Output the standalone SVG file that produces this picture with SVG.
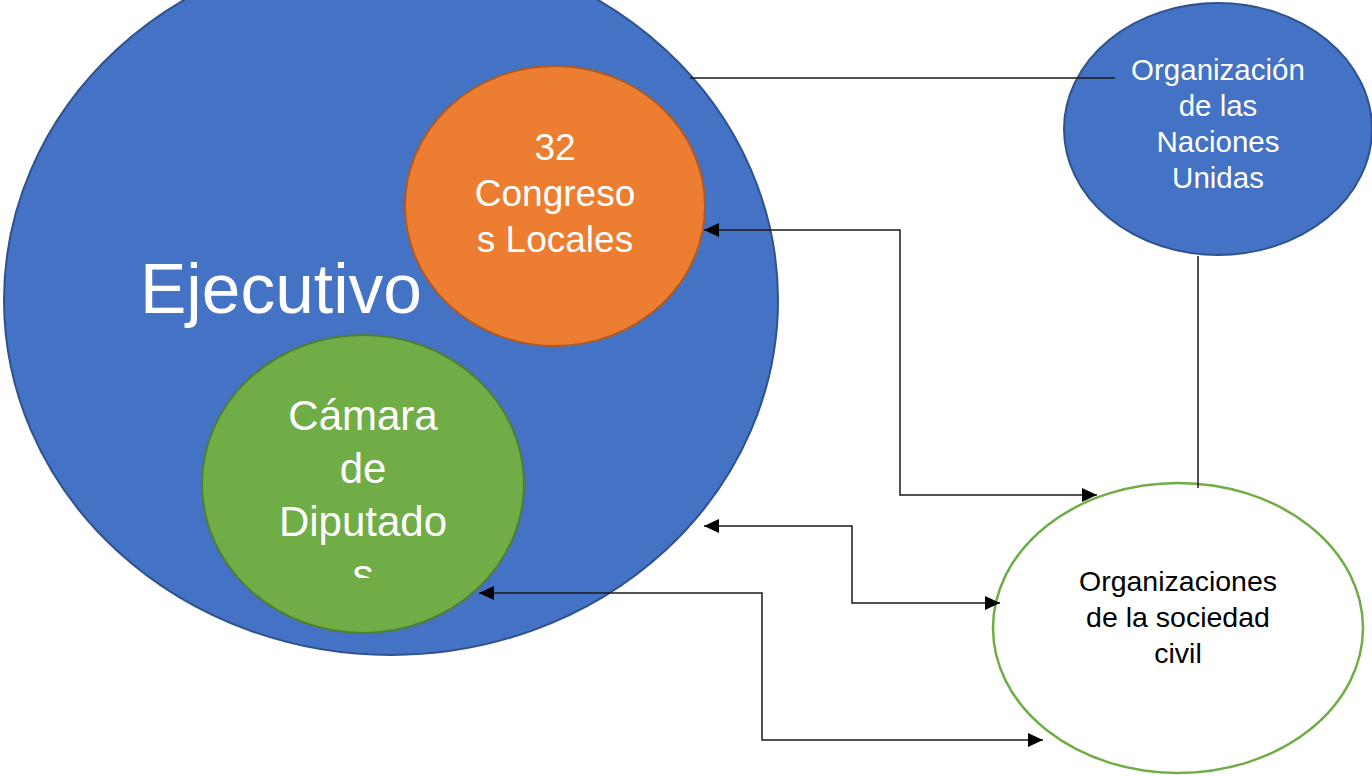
<svg xmlns="http://www.w3.org/2000/svg" width="1372" height="776" viewBox="0 0 1372 776">
<defs>
<marker id="ah" markerUnits="userSpaceOnUse" markerWidth="16" markerHeight="14" refX="15" refY="7" orient="auto-start-reverse">
<path d="M0,0 L15,7 L0,14 z" fill="#000"/>
</marker>
<clipPath id="gclip"><rect x="150" y="300" width="450" height="278"/></clipPath>
<style>
.w{fill:#fff;font-family:"Liberation Sans",Arial,sans-serif;text-anchor:middle}
.k{fill:#000;font-family:"Liberation Sans",Arial,sans-serif;text-anchor:middle}
.c{fill:none;stroke:#1a1a1a;stroke-width:1.5}
.ca{fill:none;stroke:#1a1a1a;stroke-width:1.5;marker-end:url(#ah)}
.cb{fill:none;stroke:#1a1a1a;stroke-width:1.5;marker-start:url(#ah);marker-end:url(#ah)}
</style>
</defs>
<rect width="1372" height="776" fill="#fff"/>
<g id="ejecutivo">
<ellipse cx="391" cy="300" rx="387" ry="355" fill="#4472C4" stroke="#2F528F" stroke-width="2"/>
<text class="w" x="281" y="313" font-size="69.5">Ejecutivo</text>
</g>
<g id="congresos">
<ellipse cx="555" cy="206" rx="150" ry="140" fill="#ED7D31" stroke="#AE5A21" stroke-width="2"/>
<text class="w" font-size="37"><tspan x="555" y="160">32</tspan><tspan x="555" y="206">Congreso</tspan><tspan x="555" y="252">s Locales</tspan></text>
</g>
<g id="camara">
<ellipse cx="363" cy="484" rx="161" ry="149" fill="#70AD47" stroke="#507E32" stroke-width="2"/>
<text class="w" font-size="42" clip-path="url(#gclip)"><tspan x="363" y="430">Cámara</tspan><tspan x="363" y="483">de</tspan><tspan x="363" y="536">Diputado</tspan><tspan x="363" y="589">s</tspan></text>
</g>
<g id="onu">
<ellipse cx="1218" cy="129" rx="154" ry="126" fill="#4472C4" stroke="#2F528F" stroke-width="2"/>
<text class="w" font-size="29.5"><tspan x="1218" y="80">Organización</tspan><tspan x="1218" y="116">de las</tspan><tspan x="1218" y="152">Naciones</tspan><tspan x="1218" y="188">Unidas</tspan></text>
</g>
<g id="sociedad">
<ellipse cx="1178" cy="628" rx="185" ry="145" fill="#fff" stroke="#70AD47" stroke-width="2.5"/>
<text class="k" font-size="28.5"><tspan x="1178" y="591">Organizaciones</tspan><tspan x="1178" y="627">de la sociedad</tspan><tspan x="1178" y="663">civil</tspan></text>
</g>
<g id="connectors">
<path class="c" d="M690,78 H1115"/>
<path class="c" d="M1198,256 V488"/>
<path class="cb" d="M704,230 H900 V495 H1097"/>
<path class="cb" d="M704,526 H852 V603 H1000"/>
<path class="cb" d="M479,593 H762 V740 H1043"/>
</g>
</svg>
